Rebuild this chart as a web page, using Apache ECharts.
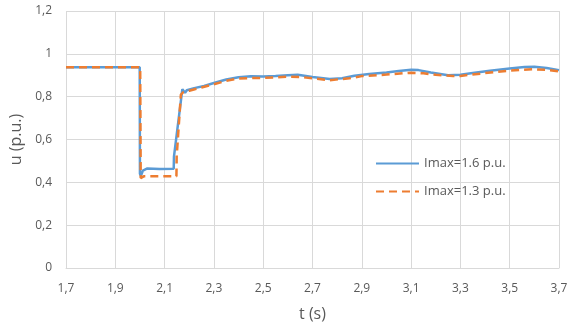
<!DOCTYPE html>
<html><head><meta charset="utf-8">
<script src="https://cdn.jsdelivr.net/npm/echarts@6/dist/echarts.min.js"></script>
<style>html,body{margin:0;padding:0;background:#fff}#c{width:571px;height:329px}</style>
</head><body><div id="c"></div>
<script>
const seriesNames = ['Imax=1.6 p.u.', 'Imax=1.3 p.u.'];
const blueT = [1.7,1.999,2.0,2.004,2.012,2.03,2.08,2.137,2.138,2.172,2.178,2.183,2.19,2.22,2.26,2.3,2.35,2.4,2.45,2.5,2.55,2.6,2.64,2.7,2.77,2.82,2.87,2.93,3.0,3.05,3.1,3.13,3.18,3.25,3.3,3.35,3.42,3.5,3.56,3.6,3.65,3.7];
const blueU = [0.937,0.937,0.44,0.43,0.455,0.465,0.462,0.463,0.52,0.835,0.826,0.818,0.83,0.840,0.850,0.864,0.880,0.891,0.895,0.894,0.896,0.900,0.902,0.892,0.882,0.886,0.898,0.906,0.913,0.920,0.926,0.924,0.913,0.900,0.902,0.910,0.921,0.932,0.939,0.940,0.934,0.924];
const orangeT = [1.7,2.001,2.003,2.008,2.015,2.148,2.149,2.166,2.175,2.2,2.25,2.3,2.35,2.4,2.5,2.6,2.65,2.7,2.77,2.85,2.9,3.0,3.1,3.15,3.2,3.27,3.3,3.4,3.5,3.6,3.65,3.7];
const orangeU = [0.937,0.937,0.42,0.418,0.428,0.428,0.52,0.81,0.82,0.828,0.843,0.858,0.874,0.885,0.888,0.893,0.892,0.886,0.877,0.886,0.896,0.903,0.912,0.909,0.902,0.896,0.897,0.910,0.922,0.928,0.925,0.918];
const xTicks = ['1,7','1,9','2,1','2,3','2,5','2,7','2,9','3,1','3,3','3,5','3,7'];
const yTicks = ['0','0,2','0,4','0,6','0,8','1','1,2'];

const zip = (a, b) => a.map((v, i) => [v, b[i]]);
const font = '"Open Sans", Lato, sans-serif';
const chart = echarts.init(document.getElementById('c'), null, {renderer: 'canvas'});
chart.setOption({
  animation: false,
  grid: {left: 66, right: 12, top: 11, bottom: 61, containLabel: false},
  legend: {
    orient: 'vertical', left: 370, top: 152, itemWidth: 43, itemHeight: 14, itemGap: 15,
    itemStyle: {opacity: 0},
    textStyle: {color: '#595959', fontSize: 13, fontFamily: font},
    data: seriesNames
  },
  xAxis: {
    type: 'value', min: 1.7, max: 3.7, interval: 0.2,
    name: 't (s)', nameLocation: 'middle', nameGap: 38,
    nameTextStyle: {color: '#595959', fontSize: 16, fontFamily: font},
    axisLine: {show: true, lineStyle: {color: '#D9D9D9'}},
    axisTick: {show: false},
    splitLine: {show: true, lineStyle: {color: '#D9D9D9', width: 1}},
    axisLabel: {color: '#595959', fontSize: 12, fontFamily: font, margin: 15,
      formatter: (v) => xTicks[Math.round((v - 1.7) / 0.2)] ?? ''}
  },
  yAxis: {
    type: 'value', min: 0, max: 1.2, interval: 0.2,
    name: 'u (p.u.)', nameLocation: 'middle', nameGap: 39, nameRotate: 90,
    nameTextStyle: {color: '#595959', fontSize: 16, fontFamily: font},
    axisLine: {show: false}, axisTick: {show: false},
    splitLine: {show: true, lineStyle: {color: '#D9D9D9', width: 1}},
    axisLabel: {color: '#595959', fontSize: 12, fontFamily: font, margin: 14,
      formatter: (v) => yTicks[Math.round(v / 0.2)] ?? ''}
  },
  series: [
    {name: seriesNames[0], type: 'line', data: zip(blueT, blueU), showSymbol: false, symbol: 'none',
     lineStyle: {color: '#5B9BD5', width: 2.5}, itemStyle: {color: '#5B9BD5'}, z: 2},
    {name: seriesNames[1], type: 'line', data: zip(orangeT, orangeU), showSymbol: false, symbol: 'none',
     lineStyle: {color: '#ED7D31', width: 2.5, type: [8, 5]}, itemStyle: {color: '#ED7D31'}, z: 3}
  ]
});
</script></body></html>
